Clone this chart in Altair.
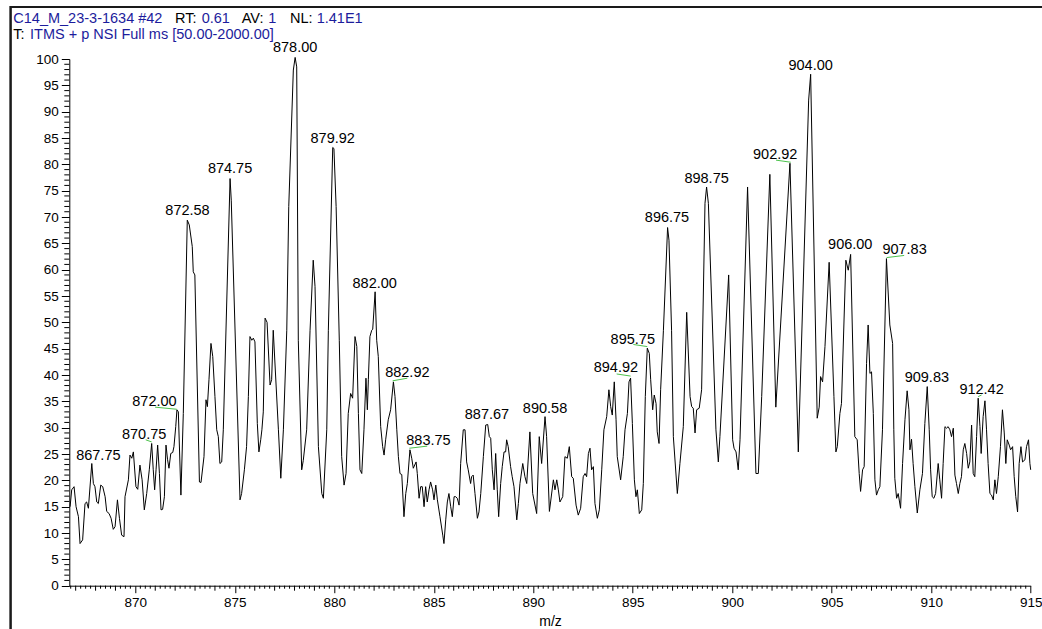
import altair as alt
import pandas as pd

# ---------------- data ----------------
mz = [866.72, 866.80, 866.92, 867.02, 867.14, 867.22, 867.35, 867.47, 867.55, 867.64,
      867.81, 867.89, 867.97, 868.06, 868.14, 868.26, 868.36, 868.48, 868.56, 868.68,
      868.78, 868.89, 868.98, 869.10, 869.20, 869.31, 869.43, 869.48, 869.65, 869.73,
      869.82, 869.90, 870.03, 870.12, 870.23, 870.34, 870.45, 870.57, 870.70, 870.82,
      870.90, 870.97, 871.04, 871.12, 871.21, 871.29, 871.37, 871.46, 871.54, 871.62,
      871.69, 871.78, 871.88, 871.94, 872.03, 872.09, 872.16, 872.29, 872.41, 872.61,
      872.71, 872.86, 872.91, 872.99, 873.22, 873.30, 873.45, 873.55, 873.62, 873.70,
      873.80, 873.89, 874.00, 874.09, 874.17, 874.25, 874.34, 874.42, 874.76, 874.82,
      875.26, 875.34, 875.48, 875.59, 875.68, 875.76, 875.85, 875.93, 876.01, 876.13,
      876.21, 876.30, 876.36, 876.43, 876.52, 876.62, 876.77, 876.85, 876.93, 877.19,
      877.31, 877.44, 877.61, 877.71, 877.94, 878.03, 878.11, 878.19, 878.36, 878.44,
      878.61, 878.78, 878.94, 879.03, 879.20, 879.37, 879.45, 879.62, 879.70, 879.92,
      879.98, 880.09, 880.25, 880.37, 880.49, 880.59, 880.70, 880.82, 880.92, 881.04,
      881.13, 881.21, 881.29, 881.38, 881.49, 881.59, 881.66, 881.71, 881.79, 881.88,
      881.93, 882.05, 882.13, 882.21, 882.33, 882.43, 882.50, 882.58, 882.71, 882.83,
      882.97, 883.05, 883.14, 883.22, 883.30, 883.39, 883.50, 883.59, 883.67, 883.80,
      883.89, 883.97, 884.11, 884.17, 884.26, 884.34, 884.42, 884.51, 884.59, 884.67,
      884.76, 884.84, 884.94, 885.01, 885.10, 885.18, 885.31, 885.45, 885.51, 885.60,
      885.68, 885.76, 885.85, 885.93, 886.02, 886.10, 886.18, 886.27, 886.35, 886.48,
      886.57, 886.65, 886.73, 886.85, 886.90, 886.98, 887.07, 887.19, 887.27, 887.36,
      887.49, 887.61, 887.71, 887.79, 887.86, 887.94, 888.03, 888.11, 888.19, 888.26,
      888.36, 888.44, 888.53, 888.61, 888.66, 888.74, 888.86, 888.94, 889.03, 889.17,
      889.25, 889.33, 889.47, 889.58, 889.67, 889.83, 889.97, 890.17, 890.30, 890.42,
      890.59, 890.67, 890.81, 891.01, 891.09, 891.18, 891.26, 891.34, 891.48, 891.59,
      891.71, 891.81, 891.93, 892.01, 892.15, 892.26, 892.38, 892.51, 892.60, 892.68,
      892.77, 892.85, 892.93, 893.02, 893.10, 893.22, 893.32, 893.44, 893.55, 893.69,
      893.80, 893.89, 893.97, 894.07, 894.16, 894.22, 894.39, 894.52, 894.61, 894.73,
      894.81, 894.89, 894.98, 895.08, 895.16, 895.23, 895.33, 895.45, 895.53, 895.63,
      895.73, 895.83, 895.90, 896.00, 896.08, 896.17, 896.23, 896.32, 896.40, 896.54,
      896.75, 896.82, 896.95, 897.04, 897.24, 897.37, 897.54, 897.71, 897.88, 897.96,
      898.04, 898.13, 898.21, 898.34, 898.46, 898.63, 898.71, 898.80, 899.18, 899.30,
      899.38, 899.82, 900.02, 900.09, 900.19, 900.30, 900.39, 900.77, 901.19, 901.31,
      901.48, 901.89, 902.19, 902.90, 903.32, 903.84, 903.94, 904.27, 904.37, 904.44,
      904.54, 904.66, 904.87, 905.11, 905.21, 905.28, 905.41, 905.49, 905.71, 905.83,
      905.95, 906.16, 906.28, 906.38, 906.45, 906.55, 906.63, 906.75, 906.83, 906.92,
      907.00, 907.09, 907.17, 907.25, 907.34, 907.42, 907.55, 907.75, 907.92, 908.06,
      908.12, 908.17, 908.26, 908.34, 908.46, 908.56, 908.68, 908.79, 908.88, 908.93,
      909.01, 909.09, 909.18, 909.30, 909.43, 909.56, 909.68, 909.80, 909.90, 909.97,
      910.05, 910.13, 910.22, 910.35, 910.43, 910.52, 910.60, 910.69, 910.77, 910.85,
      910.94, 911.02, 911.11, 911.19, 911.27, 911.36, 911.44, 911.52, 911.61, 911.69,
      911.78, 911.86, 911.94, 912.03, 912.11, 912.19, 912.28, 912.36, 912.45, 912.51,
      912.61, 912.70, 912.78, 912.86, 912.95, 913.03, 913.12, 913.20, 913.28, 913.37,
      913.48, 913.58, 913.67, 913.75, 913.82, 913.92, 913.99, 914.09, 914.17, 914.25,
      914.34, 914.42, 914.51, 914.59, 914.71, 914.79, 914.89, 914.96, 915.00]

intensity = [15.0, 18.2, 18.8, 15.0, 13.1, 8.0, 8.7, 15.6, 15.9, 14.7,
             23.2, 19.4, 18.8, 15.9, 15.6, 19.1, 18.8, 16.9, 14.1, 13.7,
             12.8, 10.7, 11.2, 16.3, 12.8, 9.6, 9.3, 16.9, 20.1, 24.8,
             24.2, 25.4, 18.8, 18.3, 22.9, 20.1, 14.4, 17.5, 22.0, 27.0,
             22.0, 18.2, 22.0, 26.7, 21.3, 14.4, 14.5, 16.9, 26.7, 23.9,
             22.3, 25.1, 25.3, 26.4, 30.2, 33.4, 33.0, 17.2, 32.7, 69.4,
             68.5, 64.4, 59.6, 59.0, 19.7, 19.6, 24.5, 35.3, 34.0, 39.1,
             46.0, 43.5, 35.9, 29.6, 28.3, 23.2, 23.5, 29.6, 77.3, 73.2,
             16.3, 17.5, 22.0, 26.4, 35.9, 47.3, 46.6, 47.0, 46.3, 30.8,
             25.4, 27.7, 29.6, 33.0, 50.8, 50.0, 38.1, 39.1, 48.5, 29.6,
             20.4, 29.6, 48.5, 72.0, 97.9, 100.3, 98.5, 46.6, 22.0, 23.8,
             29.6, 48.5, 61.8, 56.8, 26.4, 17.5, 16.6, 29.6, 48.5, 83.2,
             83.0, 72.0, 46.6, 24.5, 19.1, 21.3, 32.7, 36.5, 35.6, 47.3,
             45.4, 32.7, 22.0, 21.3, 29.6, 39.4, 33.4, 39.1, 47.3, 48.5,
             48.7, 55.8, 46.6, 43.5, 30.2, 26.4, 24.8, 27.7, 31.5, 33.4,
             38.7, 35.9, 29.6, 24.5, 21.3, 21.1, 13.1, 17.5, 19.4, 25.8,
             24.2, 22.3, 23.5, 21.3, 16.6, 18.8, 18.8, 15.0, 18.8, 15.9,
             18.2, 19.7, 18.2, 16.3, 19.1, 16.3, 13.1, 9.6, 8.0, 12.5,
             15.9, 17.5, 15.0, 13.1, 16.9, 16.9, 16.6, 15.3, 23.2, 29.6,
             29.6, 23.5, 22.0, 19.4, 20.7, 21.0, 17.5, 12.8, 14.0, 17.5,
             24.5, 30.5, 30.6, 28.3, 28.0, 22.0, 18.2, 25.1, 18.2, 13.1,
             19.4, 22.6, 25.4, 25.4, 27.7, 26.4, 22.6, 20.7, 18.8, 12.5,
             15.6, 19.4, 23.2, 20.7, 19.4, 29.2, 17.5, 13.7, 28.3, 23.2,
             32.1, 28.3, 14.1, 20.1, 18.2, 20.1, 18.2, 15.9, 16.9, 24.5,
             24.2, 26.4, 20.7, 20.4, 15.3, 13.4, 14.7, 20.7, 21.3, 20.7,
             25.1, 26.1, 22.0, 22.6, 15.6, 12.8, 14.4, 22.0, 29.6, 32.1,
             37.2, 34.0, 32.4, 38.7, 31.5, 24.5, 20.1, 24.5, 29.6, 32.7,
             38.7, 39.4, 30.8, 20.1, 16.9, 18.2, 13.7, 14.4, 19.4, 35.9,
             45.1, 44.1, 39.1, 33.4, 36.2, 34.6, 29.2, 27.0, 37.2, 48.5,
             68.0, 65.6, 48.5, 28.3, 17.5, 23.2, 30.2, 51.9, 35.9, 34.0,
             33.7, 29.0, 33.4, 33.7, 37.2, 72.6, 75.7, 72.6, 29.6, 23.5,
             28.3, 59.0, 27.7, 26.1, 25.4, 22.0, 27.7, 75.7, 21.3, 21.3,
             35.9, 78.1, 33.9, 80.2, 25.4, 92.2, 97.1, 31.8, 33.9, 39.7,
             38.7, 45.4, 61.4, 35.9, 25.4, 26.4, 32.7, 34.6, 61.8, 59.9,
             62.9, 28.3, 27.7, 21.3, 17.9, 22.0, 22.6, 42.2, 49.5, 40.3,
             40.6, 32.7, 20.1, 17.2, 18.2, 18.8, 29.6, 62.1, 49.5, 46.0,
             29.6, 20.4, 16.6, 17.5, 14.7, 23.2, 31.5, 37.0, 33.4, 25.8,
             27.8, 23.2, 18.8, 13.8, 18.2, 21.3, 30.8, 37.8, 29.6, 22.0,
             16.9, 16.6, 17.5, 23.2, 20.1, 16.6, 23.2, 30.2, 29.9, 30.2,
             29.6, 28.3, 29.9, 21.0, 19.4, 17.5, 19.4, 20.7, 25.8, 27.0,
             25.1, 22.3, 23.5, 30.5, 21.3, 20.7, 28.3, 35.6, 30.2, 25.1,
             32.1, 35.1, 29.6, 23.2, 17.5, 17.2, 16.3, 20.1, 17.5, 20.7,
             26.4, 33.4, 29.0, 23.2, 27.7, 26.7, 25.8, 26.4, 20.7, 16.9,
             14.0, 23.2, 26.4, 23.5, 23.9, 26.4, 27.7, 23.2, 22.0]

# peak annotations (text, anchor position in data units)
label_text = ["867.75", "870.75", "872.00", "872.58", "874.75", "878.00", "879.92",
              "882.00", "882.92", "883.75", "887.67", "890.58", "894.92", "895.75",
              "896.75", "898.75", "902.92", "904.00", "906.00", "907.83", "909.83",
              "912.42"]
label_x = [868.14, 870.44, 870.96, 872.62, 874.76, 878.03, 879.92, 882.03, 883.67,
           884.73, 887.67, 890.59, 894.15, 895.00, 896.72, 898.71, 902.16, 903.94,
           905.93, 908.66, 909.78, 912.53]
label_y = [24.6, 28.6, 34.9, 71.2, 79.2, 102.0, 84.9, 57.3, 40.4, 27.5, 32.5, 33.5,
           41.3, 46.6, 69.8, 77.3, 81.8, 98.6, 64.6, 63.8, 39.4, 37.2]

# green leader lines joining offset labels to their peaks
leader_x1 = [870.52, 870.99, 882.93, 883.77, 894.19, 895.03, 902.20, 907.76, 912.36]
leader_y1 = [27.7, 33.9, 38.9, 26.1, 40.2, 45.8, 80.8, 62.3, 35.9]
leader_x2 = [870.82, 872.08, 883.67, 884.67, 894.89, 895.73, 902.94, 908.64, 912.53]
leader_y2 = [27.3, 33.5, 39.4, 26.5, 39.8, 45.4, 80.4, 62.7, 36.2]

# axis ticks
x_major = [870, 875, 880, 885, 890, 895, 900, 905, 910, 915]
x_unit = [867, 868, 869, 871, 872, 873, 874, 876, 877, 878, 879, 881, 882, 883, 884,
          886, 887, 888, 889, 891, 892, 893, 894, 896, 897, 898, 899, 901, 902, 903,
          904, 906, 907, 908, 909, 911, 912, 913, 914]
x_quarter = [866.75 + 0.25 * i for i in range(194) if (866.75 + 0.25 * i) % 1 != 0]
y_major = [0, 5, 10, 15, 20, 25, 30, 35, 40, 45, 50, 55, 60, 65, 70, 75, 80, 85, 90, 95, 100]
y_minor = [v for v in range(0, 101) if v % 5 != 0]

header1 = [("C14_M_23-3-1634 #42", "blue"), ("RT:", "black"), ("0.61", "blue"),
           ("AV:", "black"), ("1", "blue"), ("NL:", "black"), ("1.41E1", "blue")]
header2 = [("T:", "black"), ("ITMS + p NSI Full ms [50.00-2000.00]", "blue")]

# ---------------- chart ----------------
FONT = "Liberation Sans"
BLUE = "#1c1c9c"
GREEN = "#4cc24c"
W, H = 961.4, 526.7
LEFT, TOP = 69.3, 59.0

x_scale = alt.Scale(domain=[866.68, 915.0], nice=False, zero=False)
y_scale = alt.Scale(domain=[0, 100], nice=False, zero=True)

x_axis = alt.Axis(
    values=x_major, format="d", tickSize=7,
    labelPadding=3, labelOverlap=False, labelFlush=False, labelBound=False,
    labelFont=FONT, labelFontSize=13.5, labelColor="black",
    title="m/z", titleFont=FONT, titleFontSize=14, titleFontWeight="normal",
    titleColor="black", titlePadding=5,
    domainColor="black", tickColor="black", grid=False,
)
y_axis = alt.Axis(
    values=y_major, format="d", tickSize=8,
    labelPadding=3, labelOverlap=False, labelFlush=False, labelBound=False,
    labelFont=FONT, labelFontSize=13.5, labelColor="black",
    title=None, domainColor="black", tickColor="black", grid=False,
)

def X(field):
    return alt.X(field, scale=x_scale, axis=x_axis, title="m/z")

def Y(field):
    return alt.Y(field, scale=y_scale, axis=y_axis, title=None)

spec_df = pd.DataFrame({"mz": mz, "I": intensity})
lab_df = pd.DataFrame({"t": label_text, "x": label_x, "y": label_y})
lead_df = pd.DataFrame({"x1": leader_x1, "y1": leader_y1, "x2": leader_x2, "y2": leader_y2})

line = alt.Chart(spec_df).mark_line(color="black", strokeWidth=1).encode(
    x=X("mz:Q"), y=Y("I:Q"),
)

leaders = alt.Chart(lead_df).mark_rule(color=GREEN, strokeWidth=1).encode(
    x=X("x1:Q"), x2="x2:Q", y=Y("y1:Q"), y2="y2:Q",
)

labels = alt.Chart(lab_df).mark_text(
    font=FONT, fontSize=14.5, align="center", baseline="middle", color="black"
).encode(x=X("x:Q"), y=Y("y:Q"), text="t:N")

def xticks(values, length):
    return alt.Chart(pd.DataFrame({"v": values})).mark_rule(color="black", strokeWidth=1).encode(
        x=X("v:Q"), y=alt.value(H), y2=alt.value(H + length),
    )

def yticks(values, length):
    return alt.Chart(pd.DataFrame({"v": values})).mark_rule(color="black", strokeWidth=1).encode(
        y=Y("v:Q"), x=alt.value(0), x2=alt.value(-length),
    )

one = alt.Data(values=[{"a": 1}])

def header_layer(parts, lefts, baseline_y):
    layers = []
    for (txt, col), px in zip(parts, lefts):
        layers.append(
            alt.Chart(one).mark_text(
                font=FONT, fontSize=14.5, align="left", baseline="alphabetic",
                color=BLUE if col == "blue" else "black",
            ).encode(x=alt.value(px - LEFT), y=alt.value(baseline_y - TOP), text=alt.value(txt))
        )
    return layers

hdr = header_layer(header1, [13.3, 175.0, 201.7, 241.7, 268.3, 290.0, 316.7], 23.3)
hdr += header_layer(header2, [13.3, 30.0], 39.3)

frame_top = alt.Chart(one).mark_rule(color="#1a1a1a", strokeWidth=2).encode(
    x=alt.value(10.5 - LEFT), x2=alt.value(1042 - LEFT), y=alt.value(7.0 - TOP)
)
frame_left = alt.Chart(one).mark_rule(color="#1a1a1a", strokeWidth=2.5).encode(
    x=alt.value(10.6 - LEFT), y=alt.value(6.0 - TOP), y2=alt.value(629 - TOP)
)

chart = alt.layer(
    line, leaders, labels,
    xticks(x_unit, 5), xticks(x_quarter, 3), yticks(y_minor, 5),
    frame_top, frame_left, *hdr
).properties(
    width=W, height=H,
    autosize=alt.AutoSizeParams(type="none"),
    padding={"left": LEFT, "top": TOP, "right": 1042 - LEFT - W, "bottom": 629 - TOP - H},
    background="white",
).configure_view(stroke=None)

chart.save("out.html", embed_options={"renderer": "svg", "actions": False})
